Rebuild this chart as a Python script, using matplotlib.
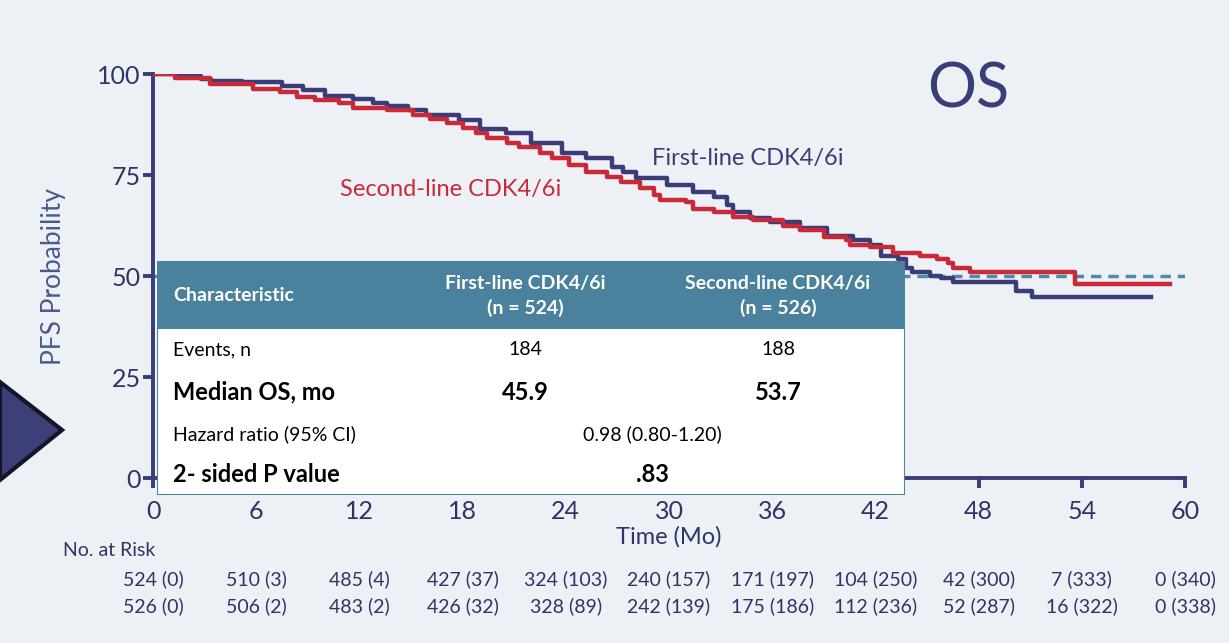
import numpy as np
import matplotlib.pyplot as plt
from matplotlib.patches import Rectangle, Polygon
from matplotlib.transforms import blended_transform_factory

plt.rcParams['font.family'] = ['Lato', 'DejaVu Sans']

# Kaplan-Meier steps (time in months, probability in %)
first_t = [0, 1.3, 2.8, 3.4, 5.2, 7.5, 8.7, 10, 11.6, 12.8, 13.6, 14.8, 15.9, 17.8, 19, 20.5,
           22, 23.8, 25.2, 26.7, 27.3, 28.1, 29.9, 31.4, 32.6, 33.4, 33.7, 34.7, 35.9, 37.6,
           39.2, 40.7, 41.7, 42.3, 43.3, 43.8, 44.1, 45.2, 45.8, 46.5, 50.2, 51.1, 58]
first_s = [100, 99.6, 98.8, 98.3, 98, 97, 96, 94.5, 93.8, 92.9, 92, 91, 89.8, 88.6, 86.5, 85.4,
           82.9, 80.4, 79.2, 76.9, 75.7, 74.2, 72.5, 70.7, 69.5, 67.5, 65.8, 64.3, 63.3, 62,
           60, 58.8, 57.6, 55, 54.3, 52.1, 50.9, 50.1, 49.4, 48.4, 46.4, 44.7, 44.7]

second_t = [0, 1.3, 3.3, 5.8, 7.4, 8.4, 9.4, 10.8, 11.6, 13.6, 15.1, 16.1, 17.1, 18, 18.8, 19.4,
            20.6, 21.3, 22.5, 23.2, 24.2, 25.2, 26.4, 27.2, 28.3, 29.1, 29.5, 31, 31.4, 32.6,
            33.7, 34.9, 36.6, 37.6, 39, 40.3, 40.5, 41.7, 43, 44.6, 45.6, 46.2, 46.5, 47.5,
            53.6, 59.1]
second_s = [100, 99, 97.5, 96.3, 95.5, 94.3, 93.5, 92.8, 91.6, 91, 89.8, 88.8, 87.8, 86.6, 85.4, 84.1,
            82.9, 81.9, 80.4, 79.2, 77.4, 75.7, 74.5, 73.2, 71.7, 70, 68.7, 68.2, 66.7, 65.8,
            64.5, 63.8, 62.5, 61.3, 59.6, 58.8, 57.6, 57.1, 55.8, 55, 54.1, 53.1, 51.9, 50.9,
            48.1, 48.1]

x_ticks = [0, 6, 12, 18, 24, 30, 36, 42, 48, 54, 60]
y_ticks = [0, 25, 50, 75, 100]
risk_first = ["524 (0)", "510 (3)", "485 (4)", "427 (37)", "324 (103)", "240 (157)",
              "171 (197)", "104 (250)", "42 (300)", "7 (333)", "0 (340)"]
risk_second = ["526 (0)", "506 (2)", "483 (2)", "426 (32)", "328 (89)", "242 (139)",
               "175 (186)", "112 (236)", "52 (287)", "16 (322)", "0 (338)"]

tbl_header = ["Characteristic", "First-line CDK4/6i\n(n = 524)", "Second-line CDK4/6i\n(n = 526)"]
tbl_events = ["Events, n", "184", "188"]
tbl_median = ["Median OS, mo", "45.9", "53.7"]
tbl_hr = ["Hazard ratio (95% CI)", "0.98 (0.80-1.20)"]
tbl_p = ["2- sided P value", ".83"]

navy = '#3a3d78'
red = '#c92a3a'
teal = '#4a819d'
txt = '#2e3566'

fig = plt.figure(figsize=(12.29, 6.43), dpi=100)
fig.patch.set_facecolor('#edf0f4')

ax = fig.add_axes([0.1245, 0.2566, 0.8397, 0.6283])
ax.set_facecolor('none')
ax.set_xlim(0, 60)
ax.set_ylim(0, 100)

ax.axhline(50, color='#4f8aa6', lw=2.5, ls=(0, (3, 2)), zorder=1)
ax.step(first_t, first_s, where='post', color=navy, lw=3.2, zorder=3)
ax.step(second_t, second_s, where='post', color=red, lw=3.2, zorder=4)

for s in ['top', 'right']:
    ax.spines[s].set_visible(False)
for s in ['left', 'bottom']:
    ax.spines[s].set_color(navy)
    ax.spines[s].set_linewidth(2.8)
ax.set_xticks(x_ticks)
ax.set_yticks(y_ticks)
ax.tick_params(axis='both', colors=navy, labelcolor=txt, width=2.8, length=7, labelsize=18)
ax.tick_params(axis='x', pad=9)
ax.tick_params(axis='y', pad=2)
ax.set_xlabel("Time (Mo)", fontsize=17, color=txt, labelpad=2)
ax.set_ylabel("PFS Probability", fontsize=19, color='#4b5891', labelpad=22)

ax.text(34.6, 79.2, "First-line CDK4/6i", color=navy, fontsize=17, ha='center', va='center')
ax.text(17.3, 71.5, "Second-line CDK4/6i", color=red, fontsize=17, ha='center', va='center')
ax.text(47.4, 96, "OS", color=navy, fontsize=44, ha='center', va='center')

# numbers at risk
tr = blended_transform_factory(ax.transData, ax.transAxes)
for x, a, b in zip(x_ticks, risk_first, risk_second):
    ax.text(x, -0.25, a, transform=tr, ha='center', va='center', fontsize=14, color=txt, clip_on=False)
    ax.text(x, -0.317, b, transform=tr, ha='center', va='center', fontsize=14, color=txt, clip_on=False)
fig.text(63 / 1229, 1 - 550 / 643, "No. at Risk", fontsize=14, color=txt, ha='left', va='center')

# arrow at the left edge
fig.patches.append(Polygon([(0, 1 - 382 / 643), (62 / 1229, 1 - 430 / 643), (0, 1 - 480 / 643)],
                           closed=True, transform=fig.transFigure, facecolor='#3d3f78',
                           edgecolor='#15152a', lw=3))

# summary table overlay
tax = fig.add_axes([157 / 1229, 1 - 495 / 643, 748 / 1229, 234 / 643], zorder=10)
tax.set_xlim(0, 748)
tax.set_ylim(234, 0)
tax.axis('off')
tax.add_patch(Rectangle((0, 0), 748, 234, facecolor='white', edgecolor=teal, lw=1.5))
tax.add_patch(Rectangle((0, 0), 748, 67, facecolor=teal, edgecolor=teal, lw=1.5))
col_x = [16, 368, 621]
tax.text(col_x[0], 35, tbl_header[0], color='white', fontsize=14, fontweight='bold', va='center')
tax.text(col_x[1], 35, tbl_header[1], color='white', fontsize=14, fontweight='bold',
         va='center', ha='center', linespacing=1.5)
tax.text(col_x[2], 35, tbl_header[2], color='white', fontsize=14, fontweight='bold',
         va='center', ha='center', linespacing=1.5)
tax.text(col_x[0], 89, tbl_events[0], fontsize=14, va='center', color='black')
tax.text(col_x[1], 89, tbl_events[1], fontsize=14, va='center', ha='center', color='black')
tax.text(col_x[2], 89, tbl_events[2], fontsize=14, va='center', ha='center', color='black')
tax.text(col_x[0], 131, tbl_median[0], fontsize=17, fontweight='bold', va='center', color='black')
tax.text(col_x[1], 131, tbl_median[1], fontsize=17, fontweight='bold', va='center', ha='center', color='black')
tax.text(col_x[2], 131, tbl_median[2], fontsize=17, fontweight='bold', va='center', ha='center', color='black')
tax.text(col_x[0], 173, tbl_hr[0], fontsize=14, va='center', color='black')
tax.text(495, 173, tbl_hr[1], fontsize=14, va='center', ha='center', color='black')
tax.text(col_x[0], 214, tbl_p[0], fontsize=17, fontweight='bold', va='center', color='black')
tax.text(495, 214, tbl_p[1], fontsize=17, fontweight='bold', va='center', ha='center', color='black')

fig.savefig("out.png", dpi=100, facecolor=fig.get_facecolor())
